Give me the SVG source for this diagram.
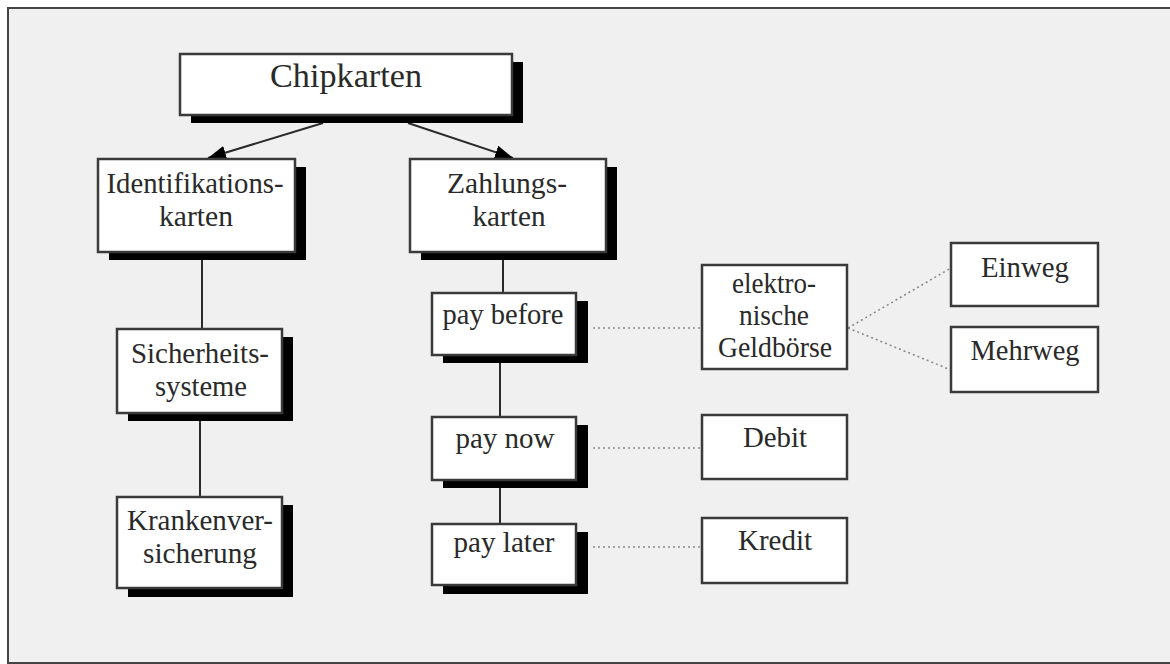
<svg xmlns="http://www.w3.org/2000/svg" width="1170" height="664" viewBox="0 0 1170 664">
<defs>
<style>
.box{fill:#fff;stroke:#3a3a3a;stroke-width:2.5}
.sh{fill:#000}
.t{font-family:'Liberation Serif','Times New Roman','DejaVu Serif',serif;font-size:30px;fill:#2a2a2a;text-anchor:middle}
.big{font-size:34px}
.solid{stroke:#2a2a2a;stroke-width:2;fill:none}
.dot{stroke:#8a8a8a;stroke-width:1.6;stroke-dasharray:2 3;fill:none}
</style>
<marker id="ahb" viewBox="0 0 18 14" refX="18" refY="7" markerWidth="18" markerHeight="14" markerUnits="userSpaceOnUse" orient="auto">
<path d="M0,0 L18,7 L0,14 z" fill="#000"/>
</marker>
</defs>
<rect x="0" y="0" width="1170" height="664" fill="#fff"/>
<rect x="8" y="8" width="1172" height="655" fill="#f0f0f0" stroke="#444" stroke-width="2"/>

<g id="connectors">
<line class="solid" x1="323" y1="123" x2="208" y2="158" marker-end="url(#ahb)"/>
<line class="solid" x1="408" y1="123" x2="513" y2="158" marker-end="url(#ahb)"/>
<line class="solid" x1="202" y1="260" x2="202" y2="329"/>
<line class="solid" x1="200" y1="421" x2="200" y2="497"/>
<line class="solid" x1="503" y1="260" x2="503" y2="293"/>
<line class="solid" x1="500" y1="363" x2="500" y2="417"/>
<line class="solid" x1="500" y1="488" x2="500" y2="524"/>
<line class="dot" x1="593" y1="328" x2="702" y2="328"/>
<line class="dot" x1="593" y1="448" x2="702" y2="448"/>
<line class="dot" x1="593" y1="547" x2="702" y2="547"/>
<line class="dot" x1="848" y1="328" x2="951" y2="268"/>
<line class="dot" x1="848" y1="328" x2="951" y2="370"/>
</g>

<g id="chipkarten">
<rect class="sh" x="191" y="62" width="332" height="61"/>
<rect class="box" x="180" y="54" width="332" height="61"/>
<text class="t big" font-family="Liberation Serif, serif" x="346" y="87" textLength="152" lengthAdjust="spacingAndGlyphs">Chipkarten</text>
</g>

<g id="identifikationskarten">
<rect class="sh" x="109" y="167" width="197" height="93"/>
<rect class="box" x="98" y="159" width="197" height="93"/>
<text class="t" font-family="Liberation Serif, serif" x="195" y="193" textLength="177" lengthAdjust="spacingAndGlyphs">Identifikations-</text>
<text class="t" font-family="Liberation Serif, serif" x="196" y="226" textLength="74" lengthAdjust="spacingAndGlyphs">karten</text>
</g>

<g id="zahlungskarten">
<rect class="sh" x="421" y="167" width="196" height="93"/>
<rect class="box" x="410" y="159" width="196" height="93"/>
<text class="t" font-family="Liberation Serif, serif" x="507" y="193" textLength="120" lengthAdjust="spacingAndGlyphs">Zahlungs-</text>
<text class="t" font-family="Liberation Serif, serif" x="509" y="226" textLength="73" lengthAdjust="spacingAndGlyphs">karten</text>
</g>

<g id="sicherheitssysteme">
<rect class="sh" x="128" y="337" width="165" height="84"/>
<rect class="box" x="117" y="329" width="165" height="84"/>
<text class="t" font-family="Liberation Serif, serif" x="200" y="363" textLength="138" lengthAdjust="spacingAndGlyphs">Sicherheits-</text>
<text class="t" font-family="Liberation Serif, serif" x="201" y="396" textLength="92" lengthAdjust="spacingAndGlyphs">systeme</text>
</g>

<g id="krankenversicherung">
<rect class="sh" x="128" y="505" width="165" height="92"/>
<rect class="box" x="117" y="497" width="165" height="91"/>
<text class="t" font-family="Liberation Serif, serif" x="200" y="530" textLength="146" lengthAdjust="spacingAndGlyphs">Krankenver-</text>
<text class="t" font-family="Liberation Serif, serif" x="200" y="563" textLength="114" lengthAdjust="spacingAndGlyphs">sicherung</text>
</g>

<g id="paybefore">
<rect class="sh" x="443" y="301" width="145" height="62"/>
<rect class="box" x="432" y="293" width="144" height="62"/>
<text class="t" font-family="Liberation Serif, serif" x="503" y="324" textLength="121" lengthAdjust="spacingAndGlyphs">pay before</text>
</g>

<g id="paynow">
<rect class="sh" x="443" y="425" width="145" height="63"/>
<rect class="box" x="432" y="417" width="144" height="63"/>
<text class="t" font-family="Liberation Serif, serif" x="505" y="448" textLength="99" lengthAdjust="spacingAndGlyphs">pay now</text>
</g>

<g id="paylater">
<rect class="sh" x="443" y="532" width="145" height="62"/>
<rect class="box" x="432" y="524" width="144" height="61"/>
<text class="t" font-family="Liberation Serif, serif" x="504" y="552" textLength="101" lengthAdjust="spacingAndGlyphs">pay later</text>
</g>

<g id="geldboerse">
<rect class="box" x="702" y="265" width="145" height="104"/>
<text class="t" font-family="Liberation Serif, serif" x="774" y="293" textLength="84" lengthAdjust="spacingAndGlyphs">elektro-</text>
<text class="t" font-family="Liberation Serif, serif" x="774" y="325" textLength="70" lengthAdjust="spacingAndGlyphs">nische</text>
<text class="t" font-family="Liberation Serif, serif" x="775" y="357" textLength="114" lengthAdjust="spacingAndGlyphs">Geldbörse</text>
</g>

<g id="debit">
<rect class="box" x="702" y="415" width="145" height="64"/>
<text class="t" font-family="Liberation Serif, serif" x="775" y="447" textLength="64" lengthAdjust="spacingAndGlyphs">Debit</text>
</g>

<g id="kredit">
<rect class="box" x="702" y="518" width="145" height="65"/>
<text class="t" font-family="Liberation Serif, serif" x="775" y="550" textLength="74" lengthAdjust="spacingAndGlyphs">Kredit</text>
</g>

<g id="einweg">
<rect class="box" x="951" y="243" width="147" height="63"/>
<text class="t" font-family="Liberation Serif, serif" x="1025" y="277" textLength="88" lengthAdjust="spacingAndGlyphs">Einweg</text>
</g>

<g id="mehrweg">
<rect class="box" x="951" y="327" width="147" height="65"/>
<text class="t" font-family="Liberation Serif, serif" x="1025" y="360" textLength="109" lengthAdjust="spacingAndGlyphs">Mehrweg</text>
</g>
</svg>
